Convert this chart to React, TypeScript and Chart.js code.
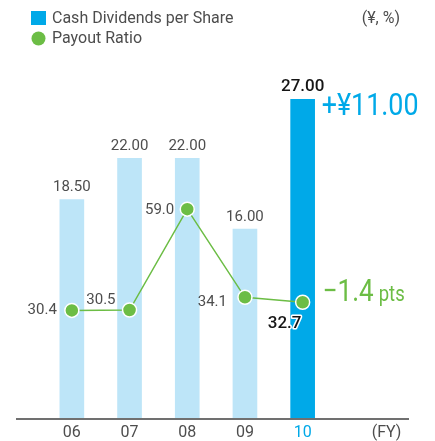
import React, { useEffect, useRef } from 'react';
import { Chart, registerables } from 'chart.js';
Chart.register(...registerables);

const categories = ['06', '07', '08', '09', '10'];
const dividends = [18.5, 22.0, 22.0, 16.0, 27.0];
const payoutRatio = [30.4, 30.5, 59.0, 34.1, 32.7];
const dividendLabels = ['18.50', '22.00', '22.00', '16.00', '27.00'];
const payoutLabels = ['30.4', '30.5', '59.0', '34.1', '32.7'];
const dividendChange = '+¥11.00';
const payoutChange = '−1.4';
const payoutChangeUnit = 'pts';
const legendDividends = 'Cash Dividends per Share';
const legendPayout = 'Payout Ratio';
const unitsLabel = '(¥, %)';
const fyLabel = '(FY)';

const BLUE = '#00a9e8';
const LIGHT_BLUE = '#bde5f8';
const GREEN = '#6cbd45';
const TEXT = '#4d4d4d';
const DARK = '#151515';
const FONT = 'Roboto, "Liberation Sans", sans-serif';

const barColors = categories.map((_, i) => (i === categories.length - 1 ? BLUE : LIGHT_BLUE));
// label placement relative to each payout point: [dx, dy, align]
const payoutPlacement: [number, number, CanvasTextAlign][] = [
  [-15, 0, 'right'],
  [-14, -10, 'right'],
  [-13, 1, 'right'],
  [-18, 5, 'right'],
  [-18, 22, 'center'],
];

const decorPlugin = {
  id: 'decor',
  afterDatasetsDraw(chart: any) {
    const ctx: CanvasRenderingContext2D = chart.ctx;
    const area = chart.chartArea;
    const xs = chart.scales.x;
    const barMeta = chart.getDatasetMeta(0);
    const lineMeta = chart.getDatasetMeta(1);
    ctx.save();

    // axis line
    ctx.fillStyle = '#707070';
    ctx.fillRect(area.left - 27, area.bottom, 393, 2);

    // x labels
    ctx.textBaseline = 'middle';
    ctx.textAlign = 'center';
    ctx.font = `16px ${FONT}`;
    categories.forEach((c, i) => {
      ctx.fillStyle = i === categories.length - 1 ? BLUE : TEXT;
      ctx.fillText(c, xs.getPixelForValue(i), area.bottom + 15);
    });
    ctx.fillStyle = TEXT;
    ctx.fillText(fyLabel, area.right + 55, area.bottom + 15);

    // bar labels
    barMeta.data.forEach((el: any, i: number) => {
      const last = i === categories.length - 1;
      ctx.font = last ? `500 17px ${FONT}` : `15px ${FONT}`;
      ctx.fillStyle = last ? DARK : TEXT;
      ctx.textAlign = 'center';
      ctx.fillText(dividendLabels[i], el.x, el.y - (last ? 13 : 12));
    });

    // payout labels
    lineMeta.data.forEach((el: any, i: number) => {
      const last = i === categories.length - 1;
      const [dx, dy, align] = payoutPlacement[i];
      ctx.font = last ? `500 17px ${FONT}` : `15px ${FONT}`;
      ctx.textAlign = align;
      if (last) {
        ctx.lineWidth = 3;
        ctx.strokeStyle = '#ffffff';
        ctx.lineJoin = 'round';
        ctx.strokeText(payoutLabels[i], el.x + dx, el.y + dy);
        ctx.fillStyle = DARK;
      } else {
        ctx.fillStyle = TEXT;
      }
      ctx.fillText(payoutLabels[i], el.x + dx, el.y + dy);
    });

    // change annotations
    const lastBar = barMeta.data[categories.length - 1];
    const lastPt = lineMeta.data[categories.length - 1];
    ctx.textAlign = 'left';
    ctx.save();
    ctx.translate(lastBar.x + 19, lastBar.y + 8);
    ctx.scale(0.84, 1);
    ctx.font = `32px ${FONT}`;
    ctx.fillStyle = BLUE;
    ctx.fillText(dividendChange, 0, 0);
    ctx.restore();

    ctx.save();
    ctx.translate(lastPt.x + 20, lastPt.y - 9);
    ctx.scale(0.84, 1);
    ctx.font = `31px ${FONT}`;
    ctx.fillStyle = GREEN;
    ctx.fillText(payoutChange, 0, 0);
    const w = ctx.measureText(payoutChange).width;
    ctx.font = `22px ${FONT}`;
    ctx.fillText(payoutChangeUnit, w + 6, 2);
    ctx.restore();

    // legend
    ctx.fillStyle = BLUE;
    ctx.fillRect(31, 11, 15, 14);
    ctx.fillStyle = GREEN;
    ctx.beginPath();
    ctx.arc(38.5, 38.5, 7, 0, Math.PI * 2);
    ctx.fill();
    ctx.font = `16px ${FONT}`;
    ctx.fillStyle = TEXT;
    ctx.textAlign = 'left';
    ctx.fillText(legendDividends, 52, 18.5);
    ctx.fillText(legendPayout, 52, 38.5);
    ctx.textAlign = 'right';
    ctx.fillText(unitsLabel, 400, 18.5);

    ctx.restore();
  },
};

export default function App() {
  const ref = useRef<HTMLCanvasElement | null>(null);
  useEffect(() => {
    if (!ref.current) return;
    const chart = new Chart(ref.current, {
      type: 'bar',
      data: {
        labels: categories,
        datasets: [
          {
            type: 'bar',
            label: legendDividends,
            data: dividends,
            backgroundColor: barColors,
            barThickness: 24,
            yAxisID: 'y',
            order: 2,
          },
          {
            type: 'line',
            label: legendPayout,
            data: payoutRatio,
            borderColor: GREEN,
            borderWidth: 1.5,
            backgroundColor: GREEN,
            pointBackgroundColor: GREEN,
            pointBorderColor: '#ffffff',
            pointBorderWidth: 1.5,
            pointRadius: 7,
            yAxisID: 'y1',
            order: 1,
          } as any,
        ],
      },
      options: {
        animation: false,
        responsive: false,
        maintainAspectRatio: false,
        layout: { padding: { left: 43, right: 103.5, top: 64, bottom: 23 } },
        plugins: { legend: { display: false }, tooltip: { enabled: false } },
        scales: {
          x: { display: false, offset: true },
          y: { display: false, min: 0, max: 30 },
          y1: { display: false, min: 0, max: 100, position: 'right' },
        },
      },
      plugins: [decorPlugin],
    });
    return () => chart.destroy();
  }, []);
  return (
    <div style={{ position: 'absolute', left: 0, top: 0, width: 435, height: 441, background: '#fff' }}>
      <canvas ref={ref} width={435} height={441} style={{ width: 435, height: 441, display: 'block' }} />
    </div>
  );
}
